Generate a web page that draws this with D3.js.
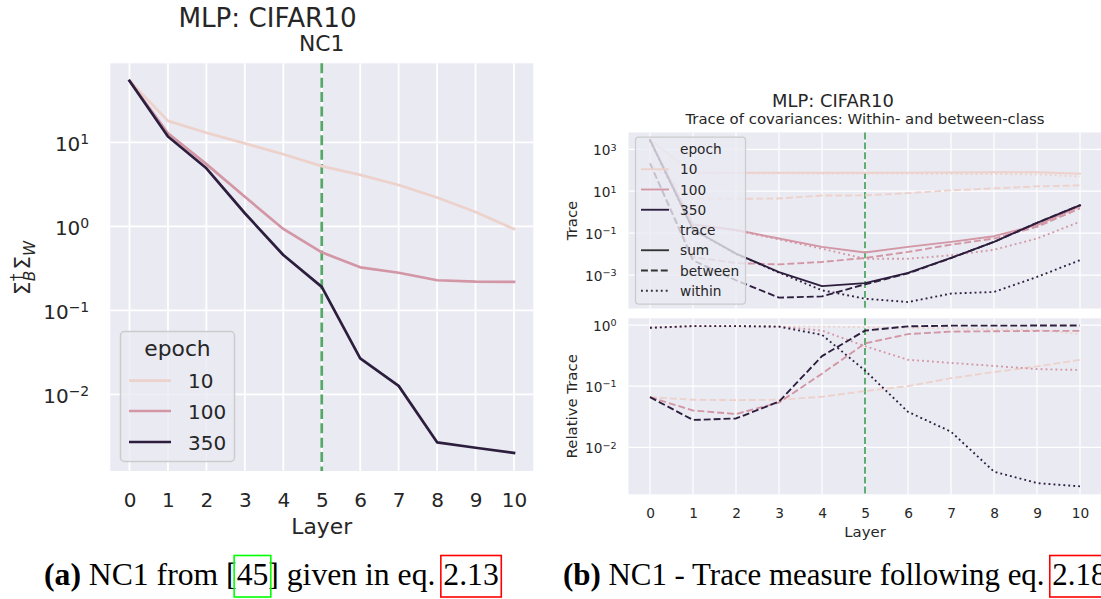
<!DOCTYPE html>
<html><head><meta charset="utf-8">
<script src="https://cdn.jsdelivr.net/npm/d3@7"></script>
<style>body{margin:0;background:#fff} svg{display:block}</style>
</head><body>
<svg id="c" width="1101" height="599"></svg>
<script>
// ---------------- DATA ----------------
const layers = [0,1,2,3,4,5,6,7,8,9,10];
const epochs = [10, 100, 350];
const traceKinds = ["sum", "between", "within"];
const xTickLabels = ["0","1","2","3","4","5","6","7","8","9","10"];

// (a) NC1 = Sigma_B^+ Sigma_W
const nc1_e10  = [54, 18, 13, 9.7, 7.2, 5.2, 4.1, 3.1, 2.2, 1.48, 0.93];
const nc1_e100 = [54, 12.8, 5.5, 2.25, 0.93, 0.49, 0.325, 0.28, 0.228, 0.219, 0.218];
const nc1_e350 = [54, 11.7, 4.9, 1.43, 0.455, 0.19, 0.0268, 0.0126, 0.00268, 0.00231, 0.0020];

// (b) top: trace of covariances
const sum_e10      = [2800, 76, 76, 76, 76, 76, 77, 78, 80, 80, 68];
const between_e10  = [215, 4.5, 4.3, 4.5, 6.2, 6.3, 8.1, 11, 13.6, 17, 19];
const within_e10   = [2585, 71, 71, 71, 70, 70, 69, 67, 66, 63, 50];
const sum_e100     = [2800, 0.26, 0.14, 0.055, 0.022, 0.0118, 0.022, 0.038, 0.071, 0.24, 1.9];
const between_e100 = [215, 0.0072, 0.0037, 0.0032, 0.0042, 0.0065, 0.0126, 0.028, 0.055, 0.2, 1.5];
const within_e100  = [2585, 0.25, 0.135, 0.05, 0.018, 0.006, 0.006, 0.0087, 0.016, 0.055, 0.35];
const sum_e350     = [2800, 0.15, 0.0105, 0.00138, 0.000295, 0.00041, 0.00126, 0.0065, 0.038, 0.31, 2.16];
const between_e350 = [215, 0.005, 0.00056, 0.000083, 0.000095, 0.00036, 0.0012, 0.0064, 0.038, 0.31, 2.15];
const within_e350  = [2585, 0.145, 0.0101, 0.0013, 0.000186, 0.000074, 0.000051, 0.00013, 0.000155, 0.00081, 0.0051];

// (b) bottom: relative trace
const relB_e10  = [0.066, 0.06, 0.059, 0.06, 0.067, 0.083, 0.10, 0.135, 0.17, 0.21, 0.27];
const relW_e10  = [0.90, 0.95, 0.95, 0.95, 0.94, 0.92, 0.90, 0.88, 0.85, 0.83, 0.71];
const relB_e100 = [0.066, 0.04, 0.035, 0.054, 0.16, 0.50, 0.71, 0.78, 0.79, 0.80, 0.80];
const relW_e100 = [0.90, 0.96, 0.96, 0.94, 0.81, 0.45, 0.27, 0.24, 0.214, 0.19, 0.184];
const relB_e350 = [0.066, 0.028, 0.0296, 0.056, 0.31, 0.81, 0.95, 0.975, 0.975, 0.98, 0.98];
const relW_e350 = [0.90, 0.96, 0.96, 0.94, 0.69, 0.18, 0.038, 0.018, 0.004, 0.0026, 0.0023];

const yTicksA = [1e-2, 1e-1, 1, 10];
const yTicksTop = [1e-3, 1e-1, 10, 1e3];
const yTicksBot = [1e-2, 1e-1, 1];
const nc1Layer = 5;

// ---------------- STYLE ----------------
const INK = "#262626", BG = "#eaeaf2", GREEN = "#55a868";
const FONT = "'DejaVu Sans', sans-serif";
const color = d3.scaleOrdinal().domain(epochs).range(["#edd1cb", "#d296a5", "#2d1e3e"]);
const svg = d3.select("#c");

function superTick(sel, fs, raise) {
  sel.each(function(d){
    const e = Math.round(Math.log10(d));
    const t = d3.select(this);
    t.text("10");
    t.append("tspan").attr("dy", -raise).attr("font-size", fs*0.7)
      .text(e < 0 ? "\u2212" + (-e) : String(e));
  });
}

function panel(o) {
  const g = svg.append("g");
  g.append("rect").attr("x", o.bx0).attr("y", o.by0).attr("width", o.bx1 - o.bx0)
    .attr("height", o.by1 - o.by0).attr("fill", BG);
  svg.append("clipPath").attr("id", o.id).append("rect")
    .attr("x", o.bx0).attr("y", o.by0).attr("width", o.bx1 - o.bx0).attr("height", o.by1 - o.by0);
  g.selectAll("line.v").data(layers).join("line").attr("class","v")
    .attr("x1", d => o.x(d)).attr("x2", d => o.x(d)).attr("y1", o.by0).attr("y2", o.by1)
    .attr("stroke", "#fff").attr("stroke-width", o.gw);
  g.selectAll("line.h").data(o.yTicks).join("line").attr("class","h")
    .attr("x1", o.bx0).attr("x2", o.bx1).attr("y1", d => o.y(d)).attr("y2", d => o.y(d))
    .attr("stroke", "#fff").attr("stroke-width", o.gw);
  const ay = svg.append("g").attr("transform", `translate(${o.bx0},0)`)
    .call(d3.axisLeft(o.y).tickValues(o.yTicks).tickSize(0).tickPadding(o.ypad).tickFormat(() => ""))
    .attr("font-family", FONT).attr("font-size", o.tfs);
  ay.select(".domain").remove();
  ay.selectAll(".tick text").attr("fill", INK).attr("dy", o.ydy).call(superTick, o.tfs, o.supRaise);
  if (o.xlabels) {
    const ax = svg.append("g").attr("transform", `translate(0,${o.by1})`)
      .call(d3.axisBottom(o.x).tickValues(layers).tickSize(0).tickFormat((d,i) => xTickLabels[i]))
      .attr("font-family", FONT).attr("font-size", o.tfs);
    ax.select(".domain").remove();
    ax.selectAll(".tick text").attr("fill", INK).attr("y", o.xBase).attr("dy", 0);
  }
  svg.append("line").attr("x1", o.x(nc1Layer)).attr("x2", o.x(nc1Layer))
    .attr("y1", o.by0).attr("y2", o.by1).attr("stroke", GREEN)
    .attr("stroke-width", o.vw).attr("stroke-dasharray", o.vdash);
}

function drawLine(vals, x, y, col, w, dash, clip) {
  const line = d3.line().x((d, i) => x(layers[i])).y(d => y(d));
  svg.append("path").attr("d", line(vals)).attr("fill", "none").attr("stroke", col)
    .attr("stroke-width", w).attr("stroke-dasharray", dash || null)
    .attr("stroke-linejoin", "round").attr("stroke-linecap", dash ? "butt" : "square")
    .attr("clip-path", `url(#${clip})`);
}

function text(x, y, s, fs, anchor) {
  return svg.append("text").attr("x", x).attr("y", y).attr("font-family", FONT)
    .attr("font-size", fs).attr("fill", INK).attr("text-anchor", anchor || "middle").text(s);
}

// ---------------- PANEL (a) ----------------
const xA = d3.scaleLinear().domain([0, 10]).range([129.5, 514]);
const yA = d3.scaleLog().domain([1e-2, 10]).range([394.3, 142.3]);
panel({id:"clipA", x:xA, y:yA, bx0:xA(-0.5), bx1:xA(10.5), by0:63.3, by1:471, yTicks:yTicksA,
  gw:1.8, tfs:20, ypad:21, ydy:7.7, supRaise:6.8, xlabels:true, xBase:35.5,
  vw:2.7, vdash:"10,4.4"});
[nc1_e10, nc1_e100, nc1_e350].forEach((v, i) => drawLine(v, xA, yA, color(epochs[i]), 2.7, null, "clipA"));

text(267.5, 26.7, "MLP: CIFAR10", 26.2);
text(xA(5), 50.7, "NC1", 21.8);
text(xA(5), 534, "Layer", 21.8);
{
  const t = svg.append("text").attr("transform", "translate(30,268) rotate(-90)")
    .attr("font-family", FONT).attr("font-size", 21.8).attr("fill", INK).attr("text-anchor", "middle");
  t.append("tspan").text("\u03A3");
  t.append("tspan").attr("font-size", 15.3).attr("dy", -8.5).text("\u2020");
  t.append("tspan").attr("font-size", 15.3).attr("font-style", "italic").attr("dx", -7.6).attr("dy", 13.5).text("B");
  t.append("tspan").attr("dy", -5).attr("dx", 1).text("\u03A3");
  t.append("tspan").attr("font-size", 15.3).attr("font-style", "italic").attr("dy", 5).text("W");
}
{
  const g = svg.append("g");
  g.append("rect").attr("x", 120.5).attr("y", 331.5).attr("width", 114).attr("height", 130).attr("rx", 4)
    .attr("fill", BG).attr("fill-opacity", 0.8).attr("stroke", "#cccccc").attr("stroke-width", 1.5);
  g.append("text").attr("x", 177.5).attr("y", 356).attr("text-anchor", "middle")
    .attr("font-family", FONT).attr("font-size", 21.8).attr("fill", INK).text("epoch");
  const rows = [380.7, 411, 442];
  epochs.forEach((e, i) => {
    g.append("line").attr("x1", 129).attr("x2", 171).attr("y1", rows[i]).attr("y2", rows[i])
      .attr("stroke", color(e)).attr("stroke-width", 2.7);
    g.append("text").attr("x", 188).attr("y", rows[i] + 7.6).attr("font-family", FONT)
      .attr("font-size", 20).attr("fill", INK).text(String(e));
  });
}

// ---------------- PANEL (b) ----------------
const xB = d3.scaleLinear().domain([0, 10]).range([650, 1080]);
const yTop = d3.scaleLog().domain([1e-3, 1e3]).range([275, 149.3]);
const yBot = d3.scaleLog().domain([1e-2, 1]).range([447.3, 325]);
panel({id:"clipT", x:xB, y:yTop, bx0:xB(-0.5), bx1:xB(10.5), by0:132.5, by1:308.5, yTicks:yTicksTop,
  gw:1.25, tfs:13.7, ypad:12, ydy:5.5, supRaise:4.7, xlabels:false,
  vw:1.87, vdash:"6.9,3"});
panel({id:"clipB", x:xB, y:yBot, bx0:xB(-0.5), bx1:xB(10.5), by0:318.3, by1:494.3, yTicks:yTicksBot,
  gw:1.25, tfs:13.7, ypad:12, ydy:5.5, supRaise:4.7, xlabels:true, xBase:24.2,
  vw:1.87, vdash:"6.9,3"});

const dashes = {sum: null, between: "6.9,3", within: "1.87,3.08"};
const traceData = {
  10:  {sum: sum_e10,  between: between_e10,  within: within_e10},
  100: {sum: sum_e100, between: between_e100, within: within_e100},
  350: {sum: sum_e350, between: between_e350, within: within_e350}
};
const relData = {
  10:  {between: relB_e10,  within: relW_e10},
  100: {between: relB_e100, within: relW_e100},
  350: {between: relB_e350, within: relW_e350}
};
epochs.forEach(e => traceKinds.forEach(k => {
  drawLine(traceData[e][k], xB, yTop, color(e), 1.87, dashes[k], "clipT");
  if (relData[e][k]) drawLine(relData[e][k], xB, yBot, color(e), 1.87, dashes[k], "clipB");
}));

text(833, 107.3, "MLP: CIFAR10", 17.9);
text(xB(5), 123.5, "Trace of covariances: Within- and between-class", 14.9);
text(xB(5), 537, "Layer", 14.9);
svg.append("text").attr("transform", `translate(577,${(132.5+308.5)/2}) rotate(-90)`)
  .attr("font-family", FONT).attr("font-size", 14.9).attr("fill", INK).attr("text-anchor", "middle").text("Trace");
svg.append("text").attr("transform", `translate(577,${(318.3+494.3)/2}) rotate(-90)`)
  .attr("font-family", FONT).attr("font-size", 14.9).attr("fill", INK).attr("text-anchor", "middle").text("Relative Trace");

{
  const g = svg.append("g");
  g.append("rect").attr("x", 635.5).attr("y", 137).attr("width", 110).attr("height", 167).attr("rx", 3)
    .attr("fill", BG).attr("fill-opacity", 0.8).attr("stroke", "#cccccc").attr("stroke-width", 1.25);
  const entries = [
    {label:"epoch"},
    {label:"10", col:color(10)}, {label:"100", col:color(100)}, {label:"350", col:color(350)},
    {label:"trace"},
    {label:"sum", col:"#333333", dash:dashes.sum},
    {label:"between", col:"#333333", dash:dashes.between},
    {label:"within", col:"#333333", dash:dashes.within}
  ];
  entries.forEach((en, i) => {
    const base = 154 + i * 20.25;
    if (en.col) g.append("line").attr("x1", 641).attr("x2", 669).attr("y1", base - 5).attr("y2", base - 5)
      .attr("stroke", en.col).attr("stroke-width", 1.87).attr("stroke-dasharray", en.dash || null);
    g.append("text").attr("x", 680).attr("y", base).attr("font-family", FONT).attr("font-size", 13.7)
      .attr("fill", INK).text(en.label);
  });
}

// ---------------- CAPTIONS ----------------
function caption(segs, x0, yb, targetEndIdx, targetX) {
  const SERIF = "'Liberation Serif', 'Times New Roman', serif";
  const base = 28;
  const nodes = segs.map(s => svg.append("text").attr("font-family", SERIF).attr("font-size", base)
    .attr("font-weight", s.bold ? "bold" : "normal").attr("fill", "#000").attr("y", yb)
    .attr("xml:space", "preserve").style("white-space", "pre").text(s.t));
  let w = 0;
  for (let i = 0; i < targetEndIdx; i++) w += nodes[i].node().getComputedTextLength();
  const fs = base * (targetX - x0) / w;
  let x = x0;
  nodes.forEach((n, i) => {
    n.attr("font-size", fs).attr("x", x);
    const sw = n.node().getComputedTextLength();
    if (segs[i].box) svg.append("rect").attr("x", x - 2.5).attr("y", 555.5).attr("width", sw + 5).attr("height", 41.5)
      .attr("fill", "none").attr("stroke", segs[i].box).attr("stroke-width", 1.6);
    x += sw;
  });
}
caption([{t:"(a)", bold:true}, {t:" NC1 from ["}, {t:"45", box:"#00ff00"}, {t:"] given in eq. "}, {t:"2.13", box:"#ff0000"}],
  44, 585, 4, 443.5);
caption([{t:"(b)", bold:true}, {t:" NC1 - Trace measure following eq. "}, {t:"2.18", box:"#ff0000"}],
  563, 585, 2, 1052.5);
</script>
</body></html>
